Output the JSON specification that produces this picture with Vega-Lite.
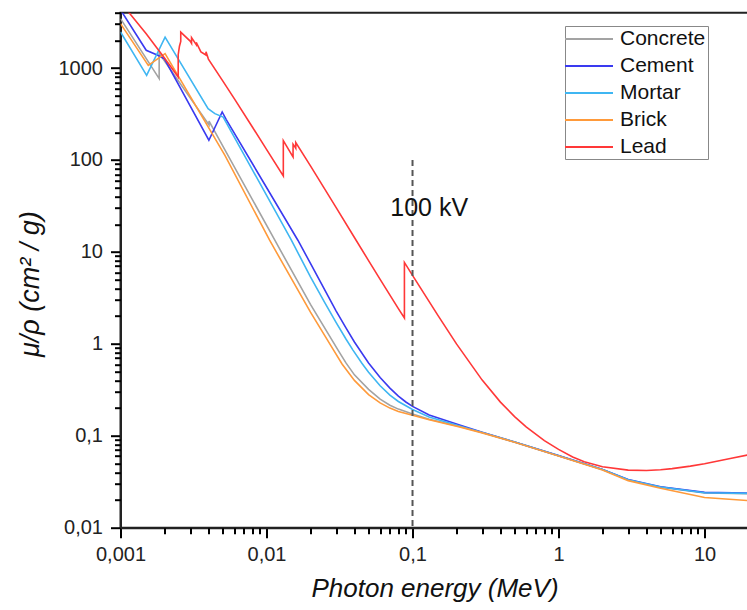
{
  "$schema": "https://vega.github.io/schema/vega-lite/v6.json",
  "width": 628,
  "height": 515,
  "autosize": {"type": "none"},
  "padding": {"left": 120.5, "top": 12.7, "right": 0, "bottom": 82.3},
  "config": {"view": {"stroke": "#222", "strokeWidth": 2}, "font": "Liberation Sans"},
  "resolve": {"axis": {"x": "independent", "y": "independent"}},
  "layer": [
    {
      "data": {"values": [
        {"m":"Concrete","E":0.001,"mu":3450,"i":0},
        {"m":"Concrete","E":0.00184,"mu":767,"i":1},
        {"m":"Concrete","E":0.00184,"mu":1450,"i":2},
        {"m":"Concrete","E":0.00404,"mu":240,"i":3},
        {"m":"Concrete","E":0.00404,"mu":265,"i":4},
        {"m":"Concrete","E":0.0114,"mu":13.4,"i":5},
        {"m":"Concrete","E":0.02,"mu":2.69,"i":6},
        {"m":"Concrete","E":0.0309,"mu":0.855,"i":7},
        {"m":"Concrete","E":0.035,"mu":0.62,"i":8},
        {"m":"Concrete","E":0.04,"mu":0.46,"i":9},
        {"m":"Concrete","E":0.05,"mu":0.32,"i":10},
        {"m":"Concrete","E":0.06,"mu":0.25,"i":11},
        {"m":"Concrete","E":0.07,"mu":0.215,"i":12},
        {"m":"Concrete","E":0.08,"mu":0.195,"i":13},
        {"m":"Concrete","E":0.1,"mu":0.173,"i":14},
        {"m":"Concrete","E":0.13,"mu":0.151,"i":15},
        {"m":"Concrete","E":0.21,"mu":0.126,"i":16},
        {"m":"Concrete","E":0.3,"mu":0.1084,"i":17},
        {"m":"Concrete","E":0.5,"mu":0.0854,"i":18},
        {"m":"Concrete","E":1,"mu":0.0607,"i":19},
        {"m":"Concrete","E":2,"mu":0.0429,"i":20},
        {"m":"Concrete","E":3,"mu":0.033,"i":21},
        {"m":"Concrete","E":5,"mu":0.0276,"i":22},
        {"m":"Concrete","E":10,"mu":0.0239,"i":23},
        {"m":"Concrete","E":20,"mu":0.0234,"i":24},

        {"m":"Cement","E":0.001,"mu":4300,"i":0},
        {"m":"Cement","E":0.0015,"mu":1560,"i":1},
        {"m":"Cement","E":0.0018,"mu":1380,"i":2},
        {"m":"Cement","E":0.002,"mu":1260,"i":3},
        {"m":"Cement","E":0.00403,"mu":164,"i":4},
        {"m":"Cement","E":0.00497,"mu":333,"i":5},
        {"m":"Cement","E":0.0053,"mu":275,"i":6},
        {"m":"Cement","E":0.0164,"mu":13.4,"i":7},
        {"m":"Cement","E":0.02,"mu":7.5,"i":8},
        {"m":"Cement","E":0.03,"mu":2.27,"i":9},
        {"m":"Cement","E":0.035,"mu":1.49,"i":10},
        {"m":"Cement","E":0.04,"mu":1.047,"i":11},
        {"m":"Cement","E":0.05,"mu":0.62,"i":12},
        {"m":"Cement","E":0.06,"mu":0.43,"i":13},
        {"m":"Cement","E":0.07,"mu":0.33,"i":14},
        {"m":"Cement","E":0.08,"mu":0.27,"i":15},
        {"m":"Cement","E":0.09,"mu":0.233,"i":16},
        {"m":"Cement","E":0.1,"mu":0.209,"i":17},
        {"m":"Cement","E":0.13,"mu":0.168,"i":18},
        {"m":"Cement","E":0.21,"mu":0.131,"i":19},
        {"m":"Cement","E":0.3,"mu":0.109,"i":20},
        {"m":"Cement","E":0.5,"mu":0.0856,"i":21},
        {"m":"Cement","E":1,"mu":0.0608,"i":22},
        {"m":"Cement","E":2,"mu":0.043,"i":23},
        {"m":"Cement","E":3,"mu":0.0335,"i":24},
        {"m":"Cement","E":5,"mu":0.0279,"i":25},
        {"m":"Cement","E":10,"mu":0.0242,"i":26},
        {"m":"Cement","E":20,"mu":0.0238,"i":27},

        {"m":"Mortar","E":0.001,"mu":2470,"i":0},
        {"m":"Mortar","E":0.00151,"mu":834,"i":1},
        {"m":"Mortar","E":0.00202,"mu":2173,"i":2},
        {"m":"Mortar","E":0.00398,"mu":362,"i":3},
        {"m":"Mortar","E":0.00443,"mu":319,"i":4},
        {"m":"Mortar","E":0.00505,"mu":293,"i":5},
        {"m":"Mortar","E":0.0148,"mu":13.4,"i":6},
        {"m":"Mortar","E":0.02,"mu":5.36,"i":7},
        {"m":"Mortar","E":0.025,"mu":2.82,"i":8},
        {"m":"Mortar","E":0.03,"mu":1.7,"i":9},
        {"m":"Mortar","E":0.035,"mu":1.13,"i":10},
        {"m":"Mortar","E":0.0391,"mu":0.855,"i":11},
        {"m":"Mortar","E":0.045,"mu":0.615,"i":12},
        {"m":"Mortar","E":0.05,"mu":0.492,"i":13},
        {"m":"Mortar","E":0.06,"mu":0.35,"i":14},
        {"m":"Mortar","E":0.07,"mu":0.277,"i":15},
        {"m":"Mortar","E":0.08,"mu":0.236,"i":16},
        {"m":"Mortar","E":0.1,"mu":0.1935,"i":17},
        {"m":"Mortar","E":0.13,"mu":0.16,"i":18},
        {"m":"Mortar","E":0.21,"mu":0.128,"i":19},
        {"m":"Mortar","E":0.3,"mu":0.1084,"i":20},
        {"m":"Mortar","E":0.5,"mu":0.0855,"i":21},
        {"m":"Mortar","E":1,"mu":0.0607,"i":22},
        {"m":"Mortar","E":2,"mu":0.0429,"i":23},
        {"m":"Mortar","E":3,"mu":0.0333,"i":24},
        {"m":"Mortar","E":5,"mu":0.0277,"i":25},
        {"m":"Mortar","E":10,"mu":0.024,"i":26},
        {"m":"Mortar","E":20,"mu":0.0236,"i":27},

        {"m":"Brick","E":0.001,"mu":3040,"i":0},
        {"m":"Brick","E":0.00155,"mu":1070,"i":1},
        {"m":"Brick","E":0.00202,"mu":1434,"i":2},
        {"m":"Brick","E":0.00519,"mu":112.5,"i":3},
        {"m":"Brick","E":0.0105,"mu":13.4,"i":4},
        {"m":"Brick","E":0.02,"mu":2.21,"i":5},
        {"m":"Brick","E":0.0288,"mu":0.855,"i":6},
        {"m":"Brick","E":0.033,"mu":0.6,"i":7},
        {"m":"Brick","E":0.04,"mu":0.4,"i":8},
        {"m":"Brick","E":0.05,"mu":0.28,"i":9},
        {"m":"Brick","E":0.06,"mu":0.228,"i":10},
        {"m":"Brick","E":0.07,"mu":0.2,"i":11},
        {"m":"Brick","E":0.08,"mu":0.184,"i":12},
        {"m":"Brick","E":0.1,"mu":0.167,"i":13},
        {"m":"Brick","E":0.13,"mu":0.149,"i":14},
        {"m":"Brick","E":0.21,"mu":0.125,"i":15},
        {"m":"Brick","E":0.3,"mu":0.1075,"i":16},
        {"m":"Brick","E":0.5,"mu":0.085,"i":17},
        {"m":"Brick","E":1,"mu":0.0603,"i":18},
        {"m":"Brick","E":2,"mu":0.0425,"i":19},
        {"m":"Brick","E":3,"mu":0.0325,"i":20},
        {"m":"Brick","E":5,"mu":0.0268,"i":21},
        {"m":"Brick","E":10,"mu":0.0213,"i":22},
        {"m":"Brick","E":20,"mu":0.0197,"i":23},

        {"m":"Lead","E":0.001,"mu":5210,"i":0},
        {"m":"Lead","E":0.0015,"mu":2356,"i":1},
        {"m":"Lead","E":0.002,"mu":1285,"i":2},
        {"m":"Lead","E":0.002484,"mu":800.6,"i":3},
        {"m":"Lead","E":0.002484,"mu":1397,"i":4},
        {"m":"Lead","E":0.002534,"mu":1726,"i":5},
        {"m":"Lead","E":0.002586,"mu":1944,"i":6},
        {"m":"Lead","E":0.002586,"mu":2458,"i":7},
        {"m":"Lead","E":0.003,"mu":1965,"i":8},
        {"m":"Lead","E":0.003066,"mu":1857,"i":9},
        {"m":"Lead","E":0.003066,"mu":2146,"i":10},
        {"m":"Lead","E":0.003301,"mu":1796,"i":11},
        {"m":"Lead","E":0.003301,"mu":1900,"i":12},
        {"m":"Lead","E":0.003554,"mu":1496,"i":13},
        {"m":"Lead","E":0.003851,"mu":1387,"i":14},
        {"m":"Lead","E":0.003851,"mu":1500,"i":15},
        {"m":"Lead","E":0.004,"mu":1251,"i":16},
        {"m":"Lead","E":0.005,"mu":730.4,"i":17},
        {"m":"Lead","E":0.006,"mu":467.2,"i":18},
        {"m":"Lead","E":0.008,"mu":228.7,"i":19},
        {"m":"Lead","E":0.01,"mu":130.6,"i":20},
        {"m":"Lead","E":0.013035,"mu":67.01,"i":21},
        {"m":"Lead","E":0.013035,"mu":162.1,"i":22},
        {"m":"Lead","E":0.015,"mu":111.6,"i":23},
        {"m":"Lead","E":0.0152,"mu":107.8,"i":24},
        {"m":"Lead","E":0.0152,"mu":148.5,"i":25},
        {"m":"Lead","E":0.015527,"mu":141.6,"i":26},
        {"m":"Lead","E":0.015861,"mu":134.4,"i":27},
        {"m":"Lead","E":0.015861,"mu":154.8,"i":28},
        {"m":"Lead","E":0.02,"mu":86.36,"i":29},
        {"m":"Lead","E":0.03,"mu":30.32,"i":30},
        {"m":"Lead","E":0.04,"mu":14.36,"i":31},
        {"m":"Lead","E":0.05,"mu":8.041,"i":32},
        {"m":"Lead","E":0.06,"mu":5.021,"i":33},
        {"m":"Lead","E":0.08,"mu":2.419,"i":34},
        {"m":"Lead","E":0.088,"mu":1.91,"i":35},
        {"m":"Lead","E":0.088,"mu":7.683,"i":36},
        {"m":"Lead","E":0.1,"mu":5.549,"i":37},
        {"m":"Lead","E":0.15,"mu":2.014,"i":38},
        {"m":"Lead","E":0.2,"mu":0.9985,"i":39},
        {"m":"Lead","E":0.3,"mu":0.4031,"i":40},
        {"m":"Lead","E":0.4,"mu":0.2323,"i":41},
        {"m":"Lead","E":0.5,"mu":0.1614,"i":42},
        {"m":"Lead","E":0.6,"mu":0.1248,"i":43},
        {"m":"Lead","E":0.8,"mu":0.0887,"i":44},
        {"m":"Lead","E":1,"mu":0.07102,"i":45},
        {"m":"Lead","E":1.25,"mu":0.05876,"i":46},
        {"m":"Lead","E":1.5,"mu":0.05222,"i":47},
        {"m":"Lead","E":2,"mu":0.04606,"i":48},
        {"m":"Lead","E":3,"mu":0.04234,"i":49},
        {"m":"Lead","E":4,"mu":0.04197,"i":50},
        {"m":"Lead","E":5,"mu":0.04272,"i":51},
        {"m":"Lead","E":6,"mu":0.04391,"i":52},
        {"m":"Lead","E":8,"mu":0.04675,"i":53},
        {"m":"Lead","E":10,"mu":0.04972,"i":54},
        {"m":"Lead","E":15,"mu":0.05658,"i":55},
        {"m":"Lead","E":20,"mu":0.06206,"i":56}
      ]},
      "mark": {"type": "line", "clip": true, "strokeWidth": 1.6},
      "encoding": {
        "x": {
          "field": "E", "type": "quantitative",
          "scale": {"type": "log", "domain": [0.001, 20], "nice": false},
          "axis": {
            "orient": "bottom",
            "values": [0.001, 0.01, 0.1, 1, 10],
            "labelExpr": "replace(format(datum.value, '~g'), '.', ',')",
            "tickSize": 10, "tickColor": "black", "tickWidth": 2,
            "title": "Photon energy (MeV)",
            "titleFont": "Liberation Sans", "titleFontStyle": "italic", "titleFontWeight": "normal", "titleFontSize": 26, "titleColor": "#111", "titlePadding": 11,
            "labelFont": "Liberation Sans", "labelFontSize": 20, "labelColor": "#222", "labelPadding": 7, "labelOverlap": false, "labelFlush": false,
            "grid": false, "domainColor": "#222", "domainWidth": 2
          }
        },
        "y": {
          "field": "mu", "type": "quantitative",
          "scale": {"type": "log", "domain": [0.01, 4000], "nice": false},
          "axis": {
            "orient": "left",
            "values": [0.01, 0.1, 1, 10, 100, 1000],
            "labelExpr": "replace(format(datum.value, '~g'), '.', ',')",
            "tickSize": 10, "tickColor": "black", "tickWidth": 2,
            "title": "μ/ρ  (cm² / g)",
            "titleFont": "Liberation Sans", "titleFontStyle": "italic", "titleFontWeight": "normal", "titleFontSize": 27, "titleColor": "#111",
            "titleX": -82, "titleY": 271, "titleAngle": -90, "titleAlign": "center", "titleBaseline": "alphabetic",
            "labelFont": "Liberation Sans", "labelFontSize": 20, "labelColor": "#222", "labelPadding": 8, "labelOverlap": false, "labelFlush": false,
            "grid": false, "domainColor": "#222", "domainWidth": 2
          }
        },
        "color": {
          "field": "m", "type": "nominal",
          "scale": {"domain": ["Concrete", "Cement", "Mortar", "Brick", "Lead"], "range": ["#a3a3a3", "#3a3af0", "#3fb6f2", "#ff9a3a", "#ff3838"]},
          "legend": {
            "title": null, "orient": "none", "legendX": 444.5, "legendY": 13.3,
            "symbolType": "M-1.3,0H3.5", "symbolSize": 400, "symbolStrokeWidth": 2,
            "labelFont": "Liberation Sans", "labelFontSize": 21, "labelColor": "#111", "labelOffset": 31, "labelLimit": 300,
            "rowPadding": 6, "padding": 2, "strokeColor": "#888", "fillColor": "white"
          }
        },
        "order": {"field": "i", "type": "quantitative"}
      }
    },
    {
      "data": {"values": [{"E": 0.1, "top": 100, "bottom": 0.01}]},
      "mark": {"type": "rule", "color": "#555", "strokeWidth": 2, "strokeDash": [6, 4]},
      "encoding": {
        "x": {
          "field": "E", "type": "quantitative",
          "axis": {
            "orient": "bottom",
            "values": [0.002,0.003,0.004,0.005,0.006,0.007,0.008,0.009,0.02,0.03,0.04,0.05,0.06,0.07,0.08,0.09,0.2,0.3,0.4,0.5,0.6,0.7,0.8,0.9,2,3,4,5,6,7,8,9,20],
            "labels": false, "domain": false, "grid": false, "title": null,
            "tickSize": 6, "tickColor": "black", "tickWidth": 2
          }
        },
        "y": {
          "field": "top", "type": "quantitative",
          "axis": {
            "orient": "left",
            "values": [0.02,0.03,0.04,0.05,0.06,0.07,0.08,0.09,0.2,0.3,0.4,0.5,0.6,0.7,0.8,0.9,2,3,4,5,6,7,8,9,20,30,40,50,60,70,80,90,200,300,400,500,600,700,800,900,2000,3000,4000],
            "labels": false, "domain": false, "grid": false, "title": null,
            "tickSize": 6, "tickColor": "black", "tickWidth": 2
          }
        },
        "y2": {"field": "bottom"}
      }
    },
    {
      "data": {"values": [{"E": 0.13, "mu": 30, "label": "100 kV"}]},
      "mark": {"type": "text", "font": "Liberation Sans", "fontSize": 25, "color": "#111", "align": "center", "baseline": "middle"},
      "encoding": {
        "x": {"field": "E", "type": "quantitative", "axis": null},
        "y": {"field": "mu", "type": "quantitative", "axis": null},
        "text": {"field": "label"}
      }
    }
  ]
}
